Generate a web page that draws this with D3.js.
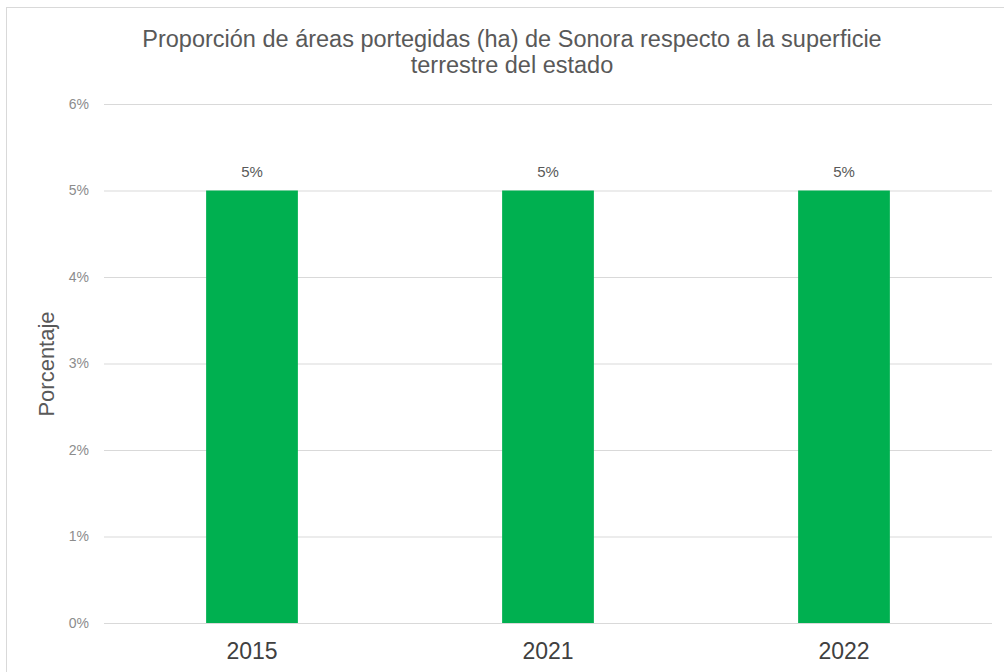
<!DOCTYPE html>
<html><head><meta charset="utf-8">
<script src="https://cdn.jsdelivr.net/npm/d3@7"></script>
<style>body{margin:0;background:#fff;}svg{display:block;font-family:"Liberation Sans",Arial,sans-serif;}</style>
</head><body>
<svg id="c" width="1004" height="672"></svg>
<script>
const categories = ["2015", "2021", "2022"];
const values = [5, 5, 5];
const valueLabels = ["5%", "5%", "5%"];
const yTicks = [0, 1, 2, 3, 4, 5, 6];
const titleLines = ["Proporción de áreas portegidas (ha) de Sonora respecto a la superficie", "terrestre del estado"];
const yTitle = "Porcentaje";

const svg = d3.select("#c");
svg.append("rect").attr("x",6.5).attr("y",7.5).attr("width",1010).attr("height",700)
  .attr("fill","#fff").attr("stroke","#d9d9d9");

const x = d3.scaleBand().domain(categories).range([104, 992]).paddingInner(0.69).paddingOuter(0.345);
const y = d3.scaleLinear().domain([0, 6]).range([623, 104]);

const g = svg.append("g");
g.selectAll("line.grid").data(yTicks).join("line").attr("class","grid")
  .attr("x1",104).attr("x2",992).attr("y1",d=>y(d)+0.5).attr("y2",d=>y(d)+0.5)
  .attr("stroke","#d9d9d9").attr("stroke-width",1);

const yAxis = g.append("g").attr("transform","translate(104,0)")
  .call(d3.axisLeft(y).tickValues(yTicks).tickFormat(d=>d+"%").tickSize(0).tickPadding(15));
yAxis.select(".domain").remove();
yAxis.selectAll("text").attr("fill","#8c8c8c").style("font-size","14px");

g.selectAll("rect.bar").data(values).join("rect").attr("class","bar")
  .attr("x",(d,i)=>x(categories[i])).attr("width",x.bandwidth())
  .attr("y",d=>y(d)).attr("height",d=>y(0)-y(d)).attr("fill","#00B050");

g.selectAll("text.vl").data(values).join("text").attr("class","vl")
  .attr("x",(d,i)=>x(categories[i])+x.bandwidth()/2).attr("y",d=>y(d)-14)
  .attr("text-anchor","middle").attr("fill","#595959").style("font-size","15px")
  .text((d,i)=>valueLabels[i]);

const xAxis = g.append("g").attr("transform","translate(0,623)")
  .call(d3.axisBottom(x).tickSize(0).tickPadding(20));
xAxis.select(".domain").remove();
xAxis.selectAll("text").attr("fill","#404040").style("font-size","23px");

svg.append("text").attr("x",512).attr("y",47).attr("text-anchor","middle")
  .attr("fill","#595959").style("font-size","23.5px")
  .selectAll("tspan").data(titleLines).join("tspan")
  .attr("x",512).attr("dy",(d,i)=>i?26:0).text(d=>d);

svg.append("text").attr("transform","translate(54,364) rotate(-90)")
  .attr("text-anchor","middle").attr("fill","#595959").style("font-size","22px").text(yTitle);
</script>
</body></html>
